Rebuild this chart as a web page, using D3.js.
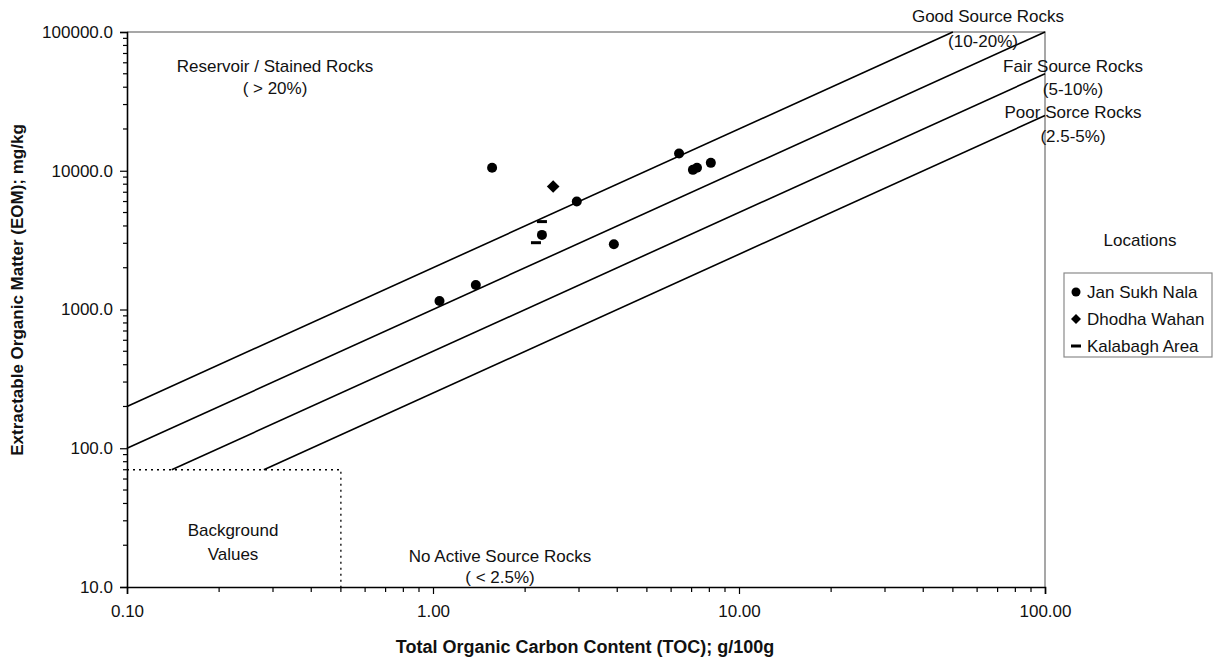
<!DOCTYPE html>
<html>
<head>
<meta charset="utf-8">
<script src="https://cdn.jsdelivr.net/npm/d3@7"></script>
<style>
  body { margin: 0; background: #fff; }
  text { font-family: "Liberation Sans", Arial, sans-serif; fill: #111; }
</style>
</head>
<body>
<div id="chart"></div>
<script>
// data
const janSukh = [
    [1.05, 1150], [1.38, 1500], [1.56, 10500], [2.27, 3450], [2.95, 6000],
    [3.90, 2950], [6.37, 13300], [7.07, 10150], [7.29, 10500], [8.09, 11400]
];
const dhodha = [[2.47, 7700]];
const kalabagh = [[2.27, 4300], [2.17, 3030]];

// EOM = k * TOC boundaries between source rock classes
const lineFactors = [2000, 1000, 500, 250];
const backgroundEOM = 70;
const backgroundTOC = 0.5;

const xTicks = [0.1, 1, 10, 100];
const yTicks = [10, 100, 1000, 10000, 100000];

const width = 1224, height = 666;
const margin = { top: 32, right: 179, bottom: 79, left: 127 };
const chartWidth = width - margin.left - margin.right;
const chartHeight = height - margin.top - margin.bottom;

const svg = d3.select('#chart').append('svg')
    .attr('width', width)
    .attr('height', height);

const chart = svg.append('g')
    .attr('transform', `translate(${margin.left}, ${margin.top})`);

const xScale = d3.scaleLog().domain([0.1, 100]).range([0, chartWidth]);
const yScale = d3.scaleLog().domain([10, 100000]).range([chartHeight, 0]);

// plot frame (top / right in gray)
chart.append('path')
    .attr('d', `M0,0H${chartWidth}V${chartHeight}`)
    .attr('fill', 'none')
    .attr('stroke', '#8a8a8a')
    .attr('stroke-width', 1.5);

// minor ticks
const xMinor = [];
const yMinor = [];
for (let e = -1; e < 2; e++) for (let m = 2; m < 10; m++) xMinor.push(m * Math.pow(10, e));
for (let e = 1; e < 5; e++) for (let m = 2; m < 10; m++) yMinor.push(m * Math.pow(10, e));

const xAxis = d3.axisBottom(xScale)
    .tickValues(xTicks)
    .tickSize(7)
    .tickFormat(d3.format('.2f'));
const xg = chart.append('g')
    .attr('transform', `translate(0, ${chartHeight})`)
    .call(xAxis);
xg.append('g').selectAll('line')
    .data(xMinor).enter().append('line')
    .attr('x1', d => xScale(d)).attr('x2', d => xScale(d))
    .attr('y1', 0).attr('y2', 5)
    .attr('stroke', '#000');

const yAxis = d3.axisLeft(yScale)
    .tickValues(yTicks)
    .tickSize(7)
    .tickFormat(d3.format('.1f'));
const yg = chart.append('g').call(yAxis);
yg.append('g').selectAll('line')
    .data(yMinor).enter().append('line')
    .attr('y1', d => yScale(d)).attr('y2', d => yScale(d))
    .attr('x1', 0).attr('x2', -4)
    .attr('stroke', '#000');

[xg, yg].forEach(g => {
    g.select('.domain').attr('stroke-width', 1.6);
    g.selectAll('line').attr('stroke-width', 1.2);
    g.selectAll('.tick text')
        .style('font-family', '"Liberation Sans", Arial, sans-serif')
        .style('font-size', '17px')
        .attr('fill', '#111');
});
xg.selectAll('.tick text').attr('dy', '1.2em');
yg.selectAll('.tick text').attr('x', -14);

// background box
chart.append('path')
    .attr('d', `M0,${yScale(backgroundEOM)}H${xScale(backgroundTOC)}V${chartHeight}`)
    .attr('fill', 'none')
    .attr('stroke', '#000')
    .attr('stroke-width', 1.3)
    .attr('stroke-dasharray', '2,4');

// source rock boundary lines
const line = d3.line().x(d => xScale(d[0])).y(d => yScale(d[1]));
chart.selectAll('.bound')
    .data(lineFactors)
    .enter().append('path')
    .attr('class', 'bound')
    .attr('d', k => {
        const x0 = Math.max(0.1, backgroundEOM / k);
        const x1 = Math.min(100, 100000 / k);
        return line([[x0, k * x0], [x1, k * x1]]);
    })
    .attr('fill', 'none')
    .attr('stroke', '#000')
    .attr('stroke-width', 1.6);

// points
chart.selectAll('.dot')
    .data(janSukh)
    .enter().append('circle')
    .attr('class', 'dot')
    .attr('cx', d => xScale(d[0]))
    .attr('cy', d => yScale(d[1]))
    .attr('r', 5)
    .attr('fill', '#000');

chart.selectAll('.dia')
    .data(dhodha)
    .enter().append('path')
    .attr('class', 'dia')
    .attr('d', d3.symbol().type(d3.symbolSquare).size(80))
    .attr('transform', d => `translate(${xScale(d[0])}, ${yScale(d[1])}) rotate(45)`)
    .attr('fill', '#000');

chart.selectAll('.dash')
    .data(kalabagh)
    .enter().append('rect')
    .attr('class', 'dash')
    .attr('x', d => xScale(d[0]) - 5)
    .attr('y', d => yScale(d[1]) - 1.5)
    .attr('width', 10)
    .attr('height', 3)
    .attr('fill', '#000');

// annotations
const notes = [
    ['Reservoir / Stained Rocks', 275, 72],
    ['( > 20%)', 275, 94],
    ['Good Source Rocks', 988, 22],
    ['(10-20%)', 983, 47],
    ['Fair Source Rocks', 1073, 72],
    ['(5-10%)', 1073, 95],
    ['Poor Sorce Rocks', 1073, 118],
    ['(2.5-5%)', 1073, 142],
    ['Background', 233, 536],
    ['Values', 233, 560],
    ['No Active Source Rocks', 500, 562],
    ['( < 2.5%)', 500, 583],
    ['Locations', 1140, 246]
];
svg.selectAll('.note')
    .data(notes)
    .enter().append('text')
    .attr('class', 'note')
    .attr('x', d => d[1])
    .attr('y', d => d[2])
    .attr('text-anchor', 'middle')
    .style('font-size', '17px')
    .text(d => d[0]);

// axis titles
svg.append('text')
    .attr('x', 585)
    .attr('y', 653)
    .attr('text-anchor', 'middle')
    .style('font-size', '18px')
    .style('font-weight', 'bold')
    .text('Total Organic Carbon Content (TOC); g/100g');

svg.append('text')
    .attr('transform', 'translate(23, 290) rotate(-90)')
    .attr('text-anchor', 'middle')
    .style('font-size', '17px')
    .style('font-weight', 'bold')
    .text('Extractable Organic Matter (EOM); mg/kg');

// legend
const legend = svg.append('g').attr('transform', 'translate(1064, 273)');
legend.append('rect')
    .attr('width', 148).attr('height', 84)
    .attr('fill', 'none')
    .attr('stroke', '#8a8a8a')
    .attr('stroke-width', 1.2);
const legendItems = ['Jan Sukh Nala', 'Dhodha Wahan', 'Kalabagh Area'];
const li = legend.selectAll('.li')
    .data(legendItems)
    .enter().append('g')
    .attr('transform', (d, i) => `translate(0, ${19 + i * 27})`);
li.append('text')
    .attr('x', 23)
    .attr('y', 6)
    .style('font-size', '17px')
    .text(d => d);
li.filter((d, i) => i === 0).append('circle')
    .attr('cx', 12).attr('cy', 0).attr('r', 4.5).attr('fill', '#000');
li.filter((d, i) => i === 1).append('path')
    .attr('d', d3.symbol().type(d3.symbolSquare).size(50))
    .attr('transform', 'translate(12, 0) rotate(45)')
    .attr('fill', '#000');
li.filter((d, i) => i === 2).append('rect')
    .attr('x', 7).attr('y', -1.5).attr('width', 10).attr('height', 3)
    .attr('fill', '#000');
</script>
</body>
</html>
